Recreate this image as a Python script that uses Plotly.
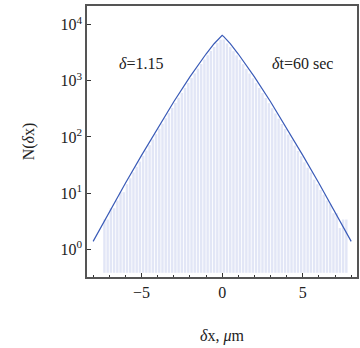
import plotly.graph_objects as go

# histogram bin centres (width 0.2) and counts
bin_centers = [round(-7.3 + 0.2 * i, 2) for i in range(76)]
bin_counts = [
    3, 3, 5, 5, 7, 10, 10, 14, 18, 23, 29, 36, 46, 57, 71, 90, 112, 140, 172,
    215, 265, 330, 405, 500, 610, 750, 920, 1120, 1360, 1650, 1990, 2400, 2870,
    3400, 4020, 4700, 5400,
    5450, 4650, 4000, 3380, 2850, 2380, 1980, 1640, 1350, 1110, 910, 745, 605,
    495, 400, 325, 262, 212, 170, 138, 110, 88, 70, 56, 45, 35, 28, 23, 17, 14,
    11, 9, 7, 6, 4, 4, 2, 3, 3,
]

# fitted curve read at selected points
curve_x = [-8, -7, -6, -5, -4, -3, -2, -1.5, -1, -0.5, -0.25, -0.1, 0,
           0.1, 0.25, 0.5, 1, 1.5, 2, 3, 4, 5, 6, 7, 8]
curve_y = [1.38, 4.6, 15, 47, 145, 425, 1175, 1900, 3010, 4590, 5560, 6150, 6500,
           6150, 5560, 4590, 3010, 1900, 1175, 425, 145, 47, 15, 4.6, 1.38]

y_tickvals = [1, 10, 100, 1000, 10000]
y_ticktext = ["10<sup>0</sup>", "10<sup>1</sup>", "10<sup>2</sup>",
              "10<sup>3</sup>", "10<sup>4</sup>"]
x_tickvals = [-5, 0, 5]

font = "Liberation Serif, Times New Roman, serif"

L, R, T, B = 87, 359, 6, 277
W, H = 360, 348


def px(x):
    return (x - L) / (R - L)


def py(y):
    return (B - y) / (B - T)


fig = go.Figure()
fig.add_trace(go.Bar(
    x=bin_centers, y=bin_counts, base=0.38, width=0.15,
    marker=dict(color="#e2e6f6", line=dict(width=0)),
    showlegend=False, hoverinfo="skip",
))
fig.add_trace(go.Scatter(
    x=curve_x, y=curve_y, mode="lines",
    line=dict(color="#3a5bb8", width=1.2),
    showlegend=False,
))

fig.update_layout(
    width=W, height=H,
    margin=dict(l=L, r=W - R, t=T, b=H - B),
    paper_bgcolor="white", plot_bgcolor="white",
    font=dict(family=font, size=15, color="#222"),
    annotations=[
        dict(x=px(141.7), y=py(63), xref="paper", yref="paper",
             xanchor="center", yanchor="middle",
             text="<i>δ</i>=1.15", showarrow=False, font=dict(size=16)),
        dict(x=px(304.5), y=py(63), xref="paper", yref="paper",
             xanchor="center", yanchor="middle",
             text="<i>δ</i>t=60 sec", showarrow=False, font=dict(size=16)),
    ],
)
fig.update_xaxes(
    range=[-8.38, 8.36], tickvals=x_tickvals, ticks="inside", ticklen=4,
    tickwidth=1, tickcolor="#333",
    minor=dict(dtick=1, tick0=0, ticks="inside", ticklen=2.5, tickcolor="#333"),
    showline=True, linecolor="#555", linewidth=1.6, mirror=True,
    showgrid=False, zeroline=False,
    title=dict(text="<i>δ</i>x, <i>μ</i>m", standoff=30, font=dict(size=16)),
    tickfont=dict(size=16),
)
fig.update_yaxes(
    type="log", range=[-0.495, 4.334], tickvals=y_tickvals, ticktext=y_ticktext,
    ticks="inside", ticklen=4, tickwidth=1, tickcolor="#333",
    showline=True, linecolor="#555", linewidth=1.6, mirror=True,
    showgrid=False, zeroline=False,
    title=dict(text="N(<i>δ</i>x)", standoff=22, font=dict(size=16)),
    tickfont=dict(size=16),
)

fig.write_html(
    "out.html",
    config={"displayModeBar": False},
    post_script="document.body.style.margin='0';document.body.style.padding='0';",
)
